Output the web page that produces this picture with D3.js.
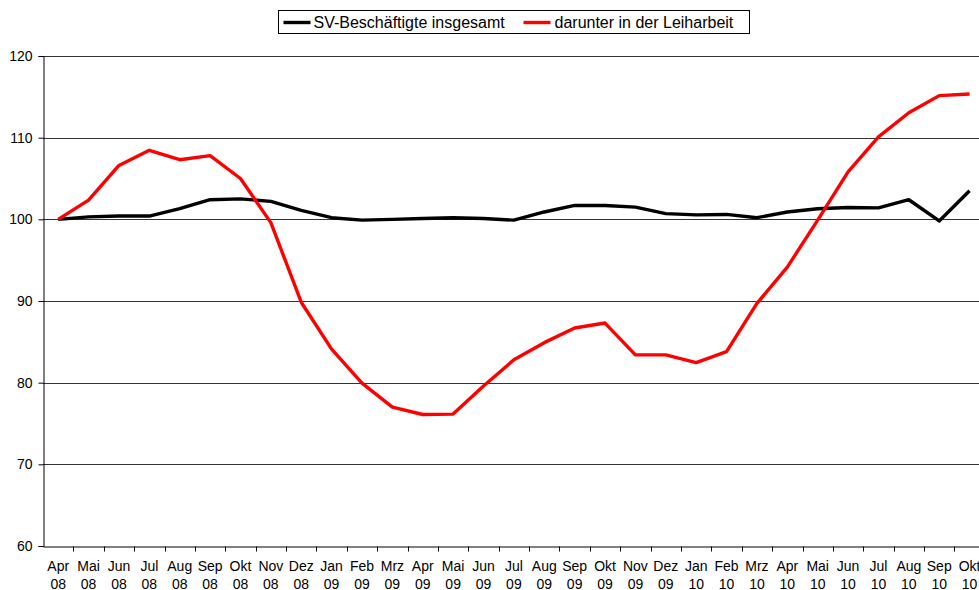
<!DOCTYPE html>
<html>
<head>
<meta charset="utf-8">
<script src="https://cdn.jsdelivr.net/npm/d3@7"></script>
<style>
  body { margin: 0; background: #fff; }
  svg { display: block; font-family: "Liberation Sans", Arial, sans-serif; }
</style>
</head>
<body>
<div id="chart"></div>
<script>
var months = ["Apr 08", "Mai 08", "Jun 08", "Jul 08", "Aug 08", "Sep 08", "Okt 08", "Nov 08", "Dez 08",
  "Jan 09", "Feb 09", "Mrz 09", "Apr 09", "Mai 09", "Jun 09", "Jul 09", "Aug 09", "Sep 09", "Okt 09",
  "Nov 09", "Dez 09", "Jan 10", "Feb 10", "Mrz 10", "Apr 10", "Mai 10", "Jun 10", "Jul 10", "Aug 10",
  "Sep 10", "Okt 10"];

var insgesamt = [100.0, 100.3, 100.4, 100.4, 101.3, 102.4, 102.5, 102.2, 101.1, 100.2, 99.9, 100.0,
  100.1, 100.2, 100.1, 99.9, 100.9, 101.7, 101.7, 101.5, 100.7, 100.55, 100.6, 100.2, 100.9, 101.3,
  101.45, 101.4, 102.4, 99.8, 103.5];

var leiharbeit = [100.0, 102.35, 106.6, 108.45, 107.3, 107.8, 105.0, 99.6, 89.85, 84.1, 79.95, 77.0,
  76.1, 76.15, 79.6, 82.8, 84.9, 86.7, 87.3, 83.4, 83.4, 82.45, 83.8, 89.7, 94.15, 99.9, 105.8,
  110.1, 113.05, 115.15, 115.35];

var yTicks = [60, 70, 80, 90, 100, 110, 120];

var seriesNames = ["SV-Beschäftigte insgesamt", "darunter in der Leiharbeit"];
var seriesColors = ["#000000", "#ff0000"];

var svgWidth = 979;
var svgHeight = 590;

var margin = { top: 56, left: 43 };
var step = 30.38;
var width = step * months.length;
var height = 490;

var svg = d3.select("#chart")
  .append("svg")
  .attr("width", svgWidth)
  .attr("height", svgHeight);

var chartGroup = svg.append("g")
  .attr("transform", `translate(${margin.left}, ${margin.top})`);

var xScale = d3.scaleBand()
  .domain(months)
  .range([0, width])
  .padding(0);

var yScale = d3.scaleLinear()
  .domain([60, 120])
  .range([height, 0]);

// gridlines
chartGroup.append("g")
  .selectAll("line")
  .data(yTicks.slice(1))
  .enter()
  .append("line")
  .attr("x1", 0)
  .attr("x2", width)
  .attr("y1", d => Math.round(yScale(d)) + 0.5)
  .attr("y2", d => Math.round(yScale(d)) + 0.5)
  .attr("stroke", "#333")
  .attr("stroke-width", 1);

// y axis
var leftAxis = d3.axisLeft(yScale)
  .tickValues(yTicks)
  .tickSize(5)
  .tickPadding(6)
  .tickFormat(d3.format("d"));

var yAxis = chartGroup.append("g")
  .attr("transform", "translate(0.5, 0)")
  .call(leftAxis);
yAxis.selectAll("text")
  .attr("font-size", "14px")
  .attr("font-family", "Liberation Sans, Arial, sans-serif")
  .attr("fill", "#000");
yAxis.selectAll("line, path").attr("stroke", "#000");

// x axis
var bottomAxis = d3.axisBottom(xScale)
  .tickSize(0)
  .tickPadding(0)
  .tickFormat("");

var xAxis = chartGroup.append("g")
  .attr("transform", `translate(0, ${Math.round(height) + 0.5})`)
  .call(bottomAxis);
xAxis.select("path").attr("stroke", "#000");

// tick marks at category boundaries
xAxis.selectAll(".bound")
  .data(months.slice(1).concat(["end"]))
  .enter()
  .append("line")
  .attr("class", "bound")
  .attr("x1", (d, i) => Math.round(xScale.step() * (i + 1)) + 0.5)
  .attr("x2", (d, i) => Math.round(xScale.step() * (i + 1)) + 0.5)
  .attr("y1", 0)
  .attr("y2", 5)
  .attr("stroke", "#000");

var labels = xAxis.selectAll(".mlabel")
  .data(months)
  .enter()
  .append("text")
  .attr("class", "mlabel")
  .attr("text-anchor", "middle")
  .attr("font-size", "14px")
  .attr("fill", "#000")
  .attr("transform", d => `translate(${xScale(d) + xScale.bandwidth() / 2}, 0)`);

labels.append("tspan")
  .attr("x", 0)
  .attr("y", 24.5)
  .text(d => d.split(" ")[0]);
labels.append("tspan")
  .attr("x", 0)
  .attr("y", 42)
  .text(d => d.split(" ")[1]);

// lines
var line = d3.line()
  .x((d, i) => xScale(months[i]) + xScale.bandwidth() / 2)
  .y(d => yScale(d));

[insgesamt, leiharbeit].forEach(function(values, k) {
  chartGroup.append("path")
    .datum(values)
    .attr("fill", "none")
    .attr("stroke", seriesColors[k])
    .attr("stroke-width", 3.4)
    .attr("stroke-linejoin", "round")
    .attr("d", line);
});

// legend
var legend = svg.append("g")
  .attr("transform", "translate(278.5, 10.5)");

legend.append("rect")
  .attr("width", 471)
  .attr("height", 23)
  .attr("fill", "#fff")
  .attr("stroke", "#000");

var legendItems = [
  { x: 5, textX: 35 },
  { x: 245, textX: 276 }
];

legendItems.forEach(function(item, k) {
  legend.append("line")
    .attr("x1", item.x)
    .attr("x2", item.x + 27)
    .attr("y1", 12)
    .attr("y2", 12)
    .attr("stroke", seriesColors[k])
    .attr("stroke-width", 3.4);
  legend.append("text")
    .attr("x", item.textX)
    .attr("y", 17.5)
    .attr("font-size", "16px")
    .attr("fill", "#000")
    .text(seriesNames[k]);
});
</script>
</body>
</html>
